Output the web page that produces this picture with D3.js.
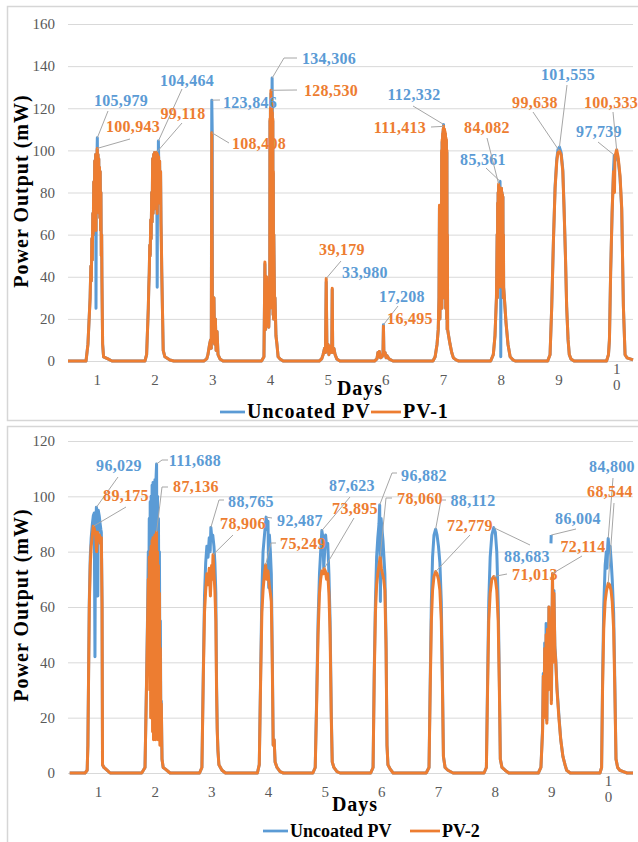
<!DOCTYPE html>
<html>
<head>
<meta charset="utf-8">
<script src="https://cdn.jsdelivr.net/npm/d3@7"></script>
<style>
  body { margin: 0; background: #fff; }
</style>
</head>
<body>
<div id="chart"></div>
<script>
// Day labels sit at noon of each day (hours since start of logging)
var dayLabels = ["1", "2", "3", "4", "5", "6", "7", "8", "9", "10"];
var dayNoon = [12, 36, 60, 84, 108, 132, 156, 180, 204, 228];
var yTicksTop = [0, 20, 40, 60, 80, 100, 120, 140, 160];
var yTicksBottom = [0, 20, 40, 60, 80, 100, 120];

// Top chart: [hour, mW]
var uncoatedTop = [[0,0],
  [7.5,0],[8.3,8],[9.2,30],[9.5,45],[9.7,38],[9.9,58],[10.1,48],[10.3,70],[10.5,60],[10.7,85],[10.9,65],[11.1,95],[11.3,70],[11.5,98],[11.65,25],[11.8,98],[11.95,75],[12.1,100],[12.2,105.979],[12.35,80],[12.5,98],[12.65,78],[12.8,96],[12.95,70],[13.1,92],[13.25,68],[13.4,90],[13.55,62],[13.7,80],[13.85,50],[14.0,60],[14.1,40],[14.4,8],[14.8,2],[16.6,1],[18.3,0],
  [32.0,0],[32.7,3],[33.4,25],[33.6,35],[33.8,42],[34.0,55],[34.2,50],[34.4,67],[34.6,58],[34.8,80],[35.0,66],[35.2,96],[35.4,70],[35.6,98],[35.8,72],[36.0,99],[36.2,75],[36.4,98],[36.6,80],[36.9,99],[37.1,35],[37.3,98],[37.5,75],[37.6,104.464],[37.7,97],[37.9,80],[38.1,95],[38.3,75],[38.5,90],[38.7,65],[38.85,55],[39.0,42],[39.6,5],[40.3,2],[42.4,0.5],[44,0],
  [56.5,0],[57.7,1],[58.2,3],[58.9,8],[59.3,10],[59.6,6],[59.8,123.846],[60.0,108],[60.1,9],[60.4,12],[60.7,30],[61.0,8],[61.3,20],[61.6,5],[62.0,14],[62.4,3],[63.2,1],[64.5,0],
  [80.5,0],[81.5,2],[81.9,46],[82.2,15],[82.6,39],[82.9,18],[83.2,25],[83.5,16],[83.8,30],[83.9,30],[84.0,114],[84.1,25],[84.2,119],[84.3,30],[84.4,127],[84.5,35],[84.6,124],[84.7,30],[84.8,121],[84.9,134.306],[85.0,117],[85.1,25],[85.2,114],[85.3,22],[85.4,89],[85.5,20],[85.6,60],[85.9,28],[86.1,30],[86.5,12],[86.9,8],[87.4,2],[88.2,1],[89.5,0],
  [104.5,0],[105.5,1],[106.1,3],[106.7,6],[107.1,4],[107.4,37.5],[107.7,5],[108.1,8],[108.5,3],[108.9,7],[109.3,4],[109.7,6],[109.9,33.98],[110.1,4],[110.6,6],[111.1,3],[111.8,1],[113.1,0],
  [127.5,0],[128.5,1],[128.9,4],[129.2,2],[129.5,4.5],[130.0,1.5],[130.6,2],[131.0,3],[131.2,17.208],[131.4,3],[131.9,4],[132.3,1.5],[132.7,2.5],[133.5,1],[135.2,0],
  [151.8,0],[152.7,2],[153.5,8],[154.0,15],[154.3,30],[154.5,73],[154.7,20],[155.0,60],[155.2,25],
  [155.3,30],[155.4,99],[155.5,25],[155.6,104],[155.7,30],[155.8,107],[155.9,35],[156.0,109],[156.1,40],[156.2,112.332],[156.3,35],[156.4,109],[156.5,30],[156.6,109],[156.7,40],[156.8,108],[156.9,30],[157.0,107],[157.1,25],[157.2,105],[157.3,30],[157.4,104],[157.5,20],[157.6,99],[157.7,15],[157.8,59],[157.9,15],
  [158.3,12],[158.9,8],[159.6,4],[160.3,1.5],[161.4,0.5],[162.5,0],
  [175.8,0],[176.9,3],[177.6,12],[178.2,30],[178.5,60],[178.6,30],[178.7,75],[178.8,35],[178.9,80],[179.0,40],[179.1,83],[179.2,35],[179.3,83],[179.4,40],[179.5,82],[179.6,38],[179.7,85.361],[179.8,40],[179.9,82],[180.0,2],[180.05,26],[180.1,81],[180.2,40],[180.3,82],[180.4,35],[180.5,80],[180.6,40],[180.7,79],[180.8,35],[180.9,78],[181.0,30],[181.1,60],[181.2,35],[181.5,30],[182.2,18],[183.0,8],[183.9,2],[185.1,0.5],[186,0],
  [199.5,0],[200.5,3],[201.2,26],[201.9,57],[202.6,83],[203.3,96],[203.8,100.5],[204.4,101.555],[205.1,99],[205.8,91],[206.3,74],[206.9,50],[207.4,26],[208.0,10],[208.5,3],[209.2,1],[210.5,0],
  [224.0,0],[224.8,3],[225.2,10],[225.7,42],[226.3,70],[226.9,91],[227.2,97.739],[227.5,95],[228.2,97.5],[228.8,96],[229.6,87],[230.3,72],[231.0,26],[231.7,3],[232.5,1.5],[233.8,1],[235.0,0.5]];

var pv1 = [[0,0],
  [7.5,0],[8.3,8],[9.2,30],[9.5,45],[9.7,38],[9.9,58],[10.1,48],[10.3,70],[10.5,60],[10.7,85],[10.9,65],[11.1,95],[11.3,70],[11.5,98],[11.65,62],[11.8,98],[11.95,75],[12.1,100],[12.2,100.943],[12.35,80],[12.5,98],[12.65,78],[12.8,96],[12.95,70],[13.1,92],[13.25,68],[13.4,90],[13.55,62],[13.7,80],[13.85,50],[14.0,60],[14.1,40],[14.4,8],[14.8,2],[16.6,1],[18.3,0],
  [32.0,0],[32.7,3],[33.4,25],[33.6,35],[33.8,42],[34.0,55],[34.2,50],[34.4,67],[34.6,58],[34.8,80],[35.0,66],[35.2,96],[35.4,70],[35.6,98],[35.8,72],[36.0,99],[36.2,75],[36.4,98],[36.6,80],[36.9,99.118],[37.1,70],[37.3,98],[37.5,75],[37.7,97],[37.9,80],[38.1,95],[38.3,75],[38.5,90],[38.7,65],[38.85,55],[39.0,42],[39.6,5],[40.3,2],[42.4,0.5],[44,0],
  [56.5,0],[57.7,1],[58.2,3],[58.9,8],[59.3,10],[59.6,6],[59.8,108.408],[60.1,9],[60.4,12],[60.7,30],[61.0,8],[61.3,20],[61.6,5],[62.0,14],[62.4,3],[63.2,1],[64.5,0],
  [80.5,0],[81.5,2],[81.9,47],[82.2,15],[82.6,40],[82.9,18],[83.2,25],[83.5,16],[83.8,30],[83.9,30],[84.0,115],[84.1,25],[84.2,120],[84.3,30],[84.4,128.53],[84.5,35],[84.6,125],[84.7,30],[84.8,122],[84.9,28],[85.0,118],[85.1,25],[85.2,115],[85.3,22],[85.4,90],[85.5,20],[85.6,60],[85.9,28],[86.1,30],[86.5,12],[86.9,8],[87.4,2],[88.2,1],[89.5,0],
  [104.5,0],[105.5,1],[106.1,3],[106.7,6],[107.1,4],[107.4,39.179],[107.7,5],[108.1,8],[108.5,3],[108.9,7],[109.3,4],[109.7,6],[109.9,34.5],[110.1,4],[110.6,6],[111.1,3],[111.8,1],[113.1,0],
  [127.5,0],[128.5,1],[128.9,4],[129.2,2],[129.5,4.5],[130.0,1.5],[130.6,2],[131.0,3],[131.2,16.495],[131.4,3],[131.9,4],[132.3,1.5],[132.7,2.5],[133.5,1],[135.2,0],
  [151.8,0],[152.7,2],[153.5,8],[154.0,15],[154.3,30],[154.5,74],[154.7,20],[155.0,60],[155.2,25],
  [155.3,30],[155.4,100],[155.5,25],[155.6,105],[155.7,30],[155.8,108],[155.9,35],[156.0,110],[156.1,40],[156.2,111.413],[156.3,35],[156.4,110],[156.5,30],[156.6,110],[156.7,40],[156.8,109],[156.9,30],[157.0,108],[157.1,25],[157.2,106],[157.3,30],[157.4,105],[157.5,20],[157.6,100],[157.7,15],[157.8,60],[157.9,15],
  [158.3,12],[158.9,8],[159.6,4],[160.3,1.5],[161.4,0.5],[162.5,0],
  [175.8,0],[176.9,3],[177.6,12],[178.2,30],[178.5,60],[178.6,30],[178.7,75],[178.8,35],[178.9,80],[179.0,40],[179.1,84.082],[179.2,35],[179.3,83],[179.4,40],[179.5,82],[179.6,38],[179.7,80],[179.8,40],[179.9,82],[180.0,45],[180.1,81],[180.2,40],[180.3,82],[180.4,35],[180.5,80],[180.6,40],[180.7,79],[180.8,35],[180.9,78],[181.0,30],[181.1,60],[181.2,35],[181.5,30],[182.2,18],[183.0,8],[183.9,2],[185.1,0.5],[186,0],
  [199.5,0],[200.5,3],[201.2,26],[201.9,57],[202.6,82],[203.3,95],[203.8,99],[204.4,99.638],[205.1,98],[205.8,90],[206.3,73],[206.9,50],[207.4,26],[208.0,10],[208.5,3],[209.2,1],[210.5,0],
  [224.0,0],[224.8,3],[225.2,10],[225.7,42],[226.3,70],[226.9,90],[227.3,80],[227.5,97],[228.2,100.333],[228.8,97],[229.6,88],[230.3,73],[231.0,26],[231.7,3],[232.5,1.5],[233.8,1],[235.0,0.5]];

// Bottom chart: [hour, mW]  (null = gap in logging)
var uncoatedBottom = [[0,0],
  [6.5,0],[7.4,1],[7.7,10],[8.0,36],[8.3,62],[8.7,78],[9.1,85],[9.6,90],[10.0,93],[10.4,94],[10.7,42],[10.9,85],[11.3,96.029],[11.6,95],[11.9,64],[12.1,95],[12.5,93],[12.9,90],[13.2,88],[13.4,87],[13.7,62],[13.9,3],[14.5,2],[15.8,1],[17.1,0],
  [30.5,0],[31.9,2],[32.5,31],[33.0,58],[33.3,80],[33.5,62],[33.7,92],[33.9,60],[34.1,98],[34.3,58],[34.5,100],[34.7,62],[34.9,104],[35.1,60],[35.3,105],[35.5,58],[35.7,104],[35.9,60],[36.1,106],[36.3,62],[36.5,105],[36.8,111.688],[37.0,58],[37.2,100],[37.4,55],[37.6,92],[37.8,50],[38.0,80],[38.2,40],[38.4,55],[38.6,20],[38.8,26],[39.1,5],[39.6,2],[40.4,1.5],[42.5,0],
  [55.0,0],[56.0,2],[56.6,37],[57.1,64],[57.6,76],[58.1,82],[58.6,78],[59.1,85],[59.5,80],[59.8,88.765],[60.2,85],[60.6,86],[61.1,82],[61.5,76],[61.9,65],[62.2,33],[62.5,16],[62.8,8],[63.2,3],[64.5,1],[66,0],
  [79.5,0],[80.3,3],[80.9,37],[81.4,65],[81.9,80],[82.5,86],[83.2,92.487],[83.6,88],[84.0,91],[84.3,67],[84.6,86],[85.0,80],[85.4,72],[85.8,44],[86.2,10],[86.6,12],[87.0,4],[87.8,2],[89.1,0.5],[90.5,0],
  [103.0,0],[104.0,2],[104.6,27],[105.2,55],[105.8,72],[106.3,80],[106.8,87.623],[107.3,85],[107.6,74],[108.0,80],[108.4,86],[108.8,82],[109.3,83],[109.8,72],[110.3,55],[110.8,22],[111.2,4],[111.9,2],[113.2,0.5],[114.5,0],
  [127.5,0],[128.5,2],[129.0,37],[129.5,62],[130.0,78],[130.5,85],[131.0,90],[131.3,96.882],[131.6,62],[131.9,92],[132.3,88],[132.7,84],[133.1,78],[133.5,72],[134.0,48],[134.4,10],[134.8,3],[135.7,1.5],[137,0],
  [151.0,0],[152.2,2],[152.7,33],[153.2,62],[153.7,78],[154.3,86],[155.0,88.112],[155.6,86],[156.2,82],[156.8,76],[157.4,62],[157.9,33],[158.3,6],[159.0,2],[160.2,1],[162.4,0],
  [175.5,0],[176.5,2],[177.0,33],[177.5,62],[178.1,78],[178.8,86],[179.6,88.683],[180.3,87],[180.9,80],[181.5,62],[182.0,33],[182.4,5],[183.1,2],[184.4,1],[186,0],
  [198.5,0],[199.6,2],[200.3,16],[200.6,36],[200.9,21],[201.2,47],[201.5,26],[201.8,54],[202.1,19],[202.4,53],[202.7,31],[203.0,60],[203.3,36],[203.6,56],[203.8,null],[203.85,83],[203.95,86.004],[204.0,null],[204.05,26],[204.5,71],[204.8,41],[205.1,66],[205.5,46],[205.9,41],[206.4,31],[207.2,21],[208.0,12],[208.9,6],[209.8,3],[210.5,1],[212,0],
  [224.6,0],[225.3,2],[225.7,33],[226.2,60],[226.8,75],[227.3,80],[227.6,74],[227.9,82],[228.1,84.8],[228.5,80],[228.9,82],[229.4,76],[229.8,70],[230.4,58],[230.9,33],[231.4,5],[232.1,2],[233.0,1],[234.5,0.5],[236.1,0],[238.6,0]];

var pv2 = [[0,0],
  [6.5,0],[7.4,1],[7.7,10],[8.0,35],[8.3,60],[8.7,75],[9.1,82],[9.6,86],[10.0,89.175],[10.5,88],[11.0,86],[11.4,80],[11.8,87],[12.2,84],[12.6,86],[13.0,83],[13.4,85],[13.7,60],[13.9,3],[14.5,2],[15.8,1],[17.1,0],
  [30.5,0],[31.9,2],[32.5,30],[33.0,55],[33.3,70],[33.5,45],[33.7,78],[33.9,30],[34.1,80],[34.3,20],[34.5,82],[34.7,25],[34.9,84],[35.1,15],[35.3,85],[35.5,12],[35.7,84],[35.9,18],[36.1,86],[36.3,12],[36.5,85],[36.8,87.136],[37.0,15],[37.2,80],[37.4,12],[37.6,75],[37.8,15],[38.0,65],[38.2,10],[38.4,45],[38.6,14],[38.8,25],[39.1,5],[39.6,2],[40.4,1.5],[42.5,0],
  [55.0,0],[56.0,2],[56.6,35],[57.1,58],[57.6,66],[58.1,72],[58.6,68],[59.1,74],[59.6,64],[60.1,75],[60.4,70],[60.7,78.906],[61.1,72],[61.5,66],[61.9,55],[62.2,30],[62.5,15],[62.8,8],[63.2,3],[64.5,1],[66,0],
  [79.5,0],[80.3,3],[80.9,35],[81.4,58],[81.9,66],[82.5,72],[83.0,75.249],[83.5,70],[84.0,73],[84.5,68],[85.0,65],[85.4,62],[85.8,40],[86.2,10],[86.6,12],[87.0,4],[87.8,2],[89.1,0.5],[90.5,0],
  [103.0,0],[104.0,2],[104.6,25],[105.2,50],[105.8,65],[106.3,70],[106.8,73],[107.3,72],[107.8,73.895],[108.3,73],[108.8,70],[109.3,72],[109.8,65],[110.3,50],[110.8,20],[111.2,4],[111.9,2],[113.2,0.5],[114.5,0],
  [127.5,0],[128.5,2],[129.0,35],[129.5,58],[130.0,68],[130.5,72],[131.0,75],[131.5,78.06],[132.0,74],[132.5,72],[133.0,70],[133.5,66],[134.0,45],[134.4,10],[134.8,3],[135.7,1.5],[137,0],
  [151.0,0],[152.2,2],[152.7,30],[153.2,55],[153.7,66],[154.3,71],[155.0,72.779],[155.6,72],[156.2,70],[156.8,66],[157.4,55],[157.9,30],[158.3,6],[159.0,2],[160.2,1],[162.4,0],
  [175.5,0],[176.5,2],[177.0,30],[177.5,55],[178.1,65],[178.8,70],[179.6,71.013],[180.3,70],[180.9,66],[181.5,55],[182.0,30],[182.4,5],[183.1,2],[184.4,1],[186,0],
  [198.5,0],[199.6,2],[200.3,15],[200.6,35],[200.9,20],[201.2,45],[201.5,25],[201.8,50],[202.1,18],[202.4,52],[202.7,30],[203.0,60],[203.3,35],[203.6,55],[204.0,25],[204.5,72.114],[204.8,40],[205.1,65],[205.5,45],[205.9,40],[206.4,30],[207.2,20],[208.0,12],[208.9,6],[209.8,3],[210.5,1],[212,0],
  [224.6,0],[225.3,2],[225.7,30],[226.2,52],[226.8,62],[227.4,66],[228.1,68.544],[228.7,68],[229.3,66],[229.8,62],[230.4,52],[230.9,30],[231.4,5],[232.1,2],[233.0,1],[234.5,0.5],[236.1,0],[238.6,0]];

// labelled daily peaks: [hour, mW]
var peaksUncoatedTop = [[12.2,105.979],[37.6,104.464],[59.8,123.846],[84.9,134.306],[109.9,33.980],[131.2,17.208],[156.2,112.332],[179.7,85.361],[204.4,101.555],[227.2,97.739]];
var peaksPv1 = [[12.2,100.943],[36.9,99.118],[59.8,108.408],[84.4,128.530],[107.4,39.179],[131.2,16.495],[156.2,111.413],[179.1,84.082],[204.4,99.638],[228.2,100.333]];
var peaksUncoatedBottom = [[11.3,96.029],[36.8,111.688],[59.8,88.765],[83.2,92.487],[106.8,87.623],[131.3,96.882],[155.0,88.112],[179.6,88.683],[203.95,86.004],[228.1,84.800]];
var peaksPv2 = [[10.0,89.175],[36.8,87.136],[60.7,78.906],[83.0,75.249],[107.8,73.895],[131.5,78.060],[155.0,72.779],[179.6,71.013],[204.5,72.114],[228.1,68.544]];

// where each data label sits: [centre x, baseline y, leader bend points]
var posTopBlue = [[121,106,[[108,111]]],[187,86,[[182,89]]],[250,108,[[220,100]]],[329,64,[[297,58],[284,58]]],[365,278,[]],
  [402,302,[[398,306]]],[414,100,[[413,106]]],[483,165,[[486,168]]],[568,80,[[567,85]]],[599,137,[[598,142]]]];
var posTopOrange = [[133,132,[[130,139]]],[183,119,[[182,123]]],[259,149,[[229,143]]],[331,96,[[297,90]]],[342,255,[[341,261]]],
  [410,324,[]],[400,133,[[431,127]]],[487,133,[[487,138]]],[535,108,[[533,112]]],[611,108,[[613,112]]]];
var posBottomBlue = [[119,471,[[118,477]]],[195,466,[[168,460],[162,460]]],[251,507,[[224,500],[219,500]]],[300,526,[[272,518]]],[352,491,[[350,497]]],
  [424,481,[[397,473],[392,473]]],[473,506,[[446,500],[441,500]]],[527,562,[[530,545]]],[578,524,[[576,529]]],[612,472,[[613,478]]]];
var posBottomOrange = [[126,501,[[126,507]]],[196,492,[[168,487],[162,487]]],[243,529,[[233,535]]],[303,549,[[276,543],[271,543]]],[355,514,[[354,518]]],
  [420,504,[[392,498],[386,498]]],[470,531,[[470,535]]],[535,580,[[507,574]]],[583,552,[[582,556]]],[610,497,[[614,503]]]];

var serif = "'Liberation Serif', 'Times New Roman', serif";
var blue = "#5b9bd5", orange = "#ed7d31";
var fmt = function(v) { return v.toFixed(3).replace(".", ","); };

var svg = d3.select("#chart").append("svg")
  .attr("width", 638).attr("height", 842)
  .style("font-family", serif);

function drawPanel(p) {
  // chart frame
  svg.append("rect")
    .attr("x", 7.5).attr("y", p.frameTop)
    .attr("width", 640).attr("height", p.frameHeight)
    .attr("fill", "#fff").attr("stroke", "#d6d6d6").attr("stroke-width", 1.5);

  var x = d3.scaleLinear().domain(p.hours).range(p.xRange);
  var y = d3.scaleLinear().domain([0, p.yTicks[p.yTicks.length - 1]]).range([p.y0, p.yTop]);

  // y axis + gridlines
  var gy = svg.append("g")
    .attr("transform", "translate(68,0)")
    .call(d3.axisLeft(y).tickValues(p.yTicks).tickSize(-565).tickPadding(13));
  gy.attr("font-family", serif).attr("font-size", 15);
  gy.select(".domain").remove();
  gy.selectAll(".tick line").attr("stroke", "#d9d9d9");
  gy.selectAll(".tick text").attr("fill", "#595959");

  // day labels
  var gx = svg.append("g")
    .attr("transform", "translate(0," + p.y0 + ")")
    .call(d3.axisBottom(x).tickValues(dayNoon)
      .tickFormat(function(d, i) { return dayLabels[i]; })
      .tickSize(0).tickPadding(13));
  gx.attr("font-family", serif).attr("font-size", 15);
  gx.select(".domain").remove();
  gx.selectAll(".tick text").attr("fill", "#595959")
    .each(function(d, i) {
      var lab = dayLabels[i];
      if (lab.length > 1) {
        var t = d3.select(this).text(null);
        lab.split("").forEach(function(ch, k) {
          t.append("tspan").attr("x", 0).attr("dy", k ? "1.05em" : 0).text(ch);
        });
      }
    });

  // series
  var line = d3.line()
    .defined(function(d) { return d[1] !== null; })
    .x(function(d) { return x(d[0]); })
    .y(function(d) { return y(d[1]); });

  svg.append("path").datum(p.blueData).attr("d", line)
    .attr("fill", "none").attr("stroke", blue).attr("stroke-width", 3)
    .attr("stroke-linejoin", "round");
  svg.append("path").datum(p.orangeData).attr("d", line)
    .attr("fill", "none").attr("stroke", orange).attr("stroke-width", 3)
    .attr("stroke-linejoin", "round");

  // data labels with leader lines
  function labels(peaks, pos, color) {
    peaks.forEach(function(pk, i) {
      var L = pos[i];
      if (L[2].length) {
        var pts = L[2].concat([[x(pk[0]), y(pk[1])]]);
        svg.append("polyline").attr("points", pts.join(" "))
          .attr("fill", "none").attr("stroke", "#a6a6a6").attr("stroke-width", 1);
      }
      svg.append("text")
        .attr("x", L[0]).attr("y", L[1])
        .attr("text-anchor", "middle")
        .attr("fill", color)
        .style("font-weight", "bold").style("font-size", "16px")
        .style("letter-spacing", "0.3px")
        .text(fmt(pk[1]));
    });
  }
  labels(p.bluePeaks, p.bluePos, blue);
  labels(p.orangePeaks, p.orangePos, orange);

  // axis titles
  svg.append("text")
    .attr("transform", "translate(28," + p.titleY + ") rotate(-90)")
    .attr("text-anchor", "middle")
    .style("font-weight", "bold").style("font-size", "20px").style("letter-spacing", "1px")
    .text("Power Output (mW)");
  svg.append("text")
    .attr("x", p.daysX).attr("y", p.daysY)
    .attr("text-anchor", "middle")
    .style("font-weight", "bold").style("font-size", "20px").style("letter-spacing", "1px")
    .text("Days");

  // legend
  var lg = p.legend;
  svg.append("line").attr("x1", lg.x[0]).attr("x2", lg.x[0] + 25).attr("y1", lg.y - 6).attr("y2", lg.y - 6)
    .attr("stroke", blue).attr("stroke-width", 2.75);
  svg.append("text").attr("x", lg.x[0] + 27).attr("y", lg.y)
    .style("font-weight", "bold").style("font-size", lg.size + "px").style("letter-spacing", lg.ls + "px")
    .text("Uncoated PV");
  svg.append("line").attr("x1", lg.x[1]).attr("x2", lg.x[1] + 30).attr("y1", lg.y - 6).attr("y2", lg.y - 6)
    .attr("stroke", orange).attr("stroke-width", 2.75);
  svg.append("text").attr("x", lg.x[1] + 32).attr("y", lg.y)
    .style("font-weight", "bold").style("font-size", lg.size + "px").style("letter-spacing", lg.ls + "px")
    .text(lg.name);
}

drawPanel({
  frameTop: 6.5, frameHeight: 414,
  hours: [0, 235], xRange: [68, 633],
  yTicks: yTicksTop, y0: 361, yTop: 24,
  blueData: uncoatedTop, orangeData: pv1,
  bluePeaks: peaksUncoatedTop, orangePeaks: peaksPv1,
  bluePos: posTopBlue, orangePos: posTopOrange,
  titleY: 191, daysX: 360, daysY: 395,
  legend: { x: [220, 371], y: 418, size: 20, ls: 1, name: "PV-1" }
});

drawPanel({
  frameTop: 426.5, frameHeight: 430,
  hours: [0, 238.6], xRange: [69.7, 633],
  yTicks: yTicksBottom, y0: 773, yTop: 441,
  blueData: uncoatedBottom, orangeData: pv2,
  bluePeaks: peaksUncoatedBottom, orangePeaks: peaksPv2,
  bluePos: posBottomBlue, orangePos: posBottomOrange,
  titleY: 605, daysX: 355, daysY: 811,
  legend: { x: [263, 410], y: 837, size: 18, ls: 0, name: "PV-2" }
});
</script>
</body>
</html>
